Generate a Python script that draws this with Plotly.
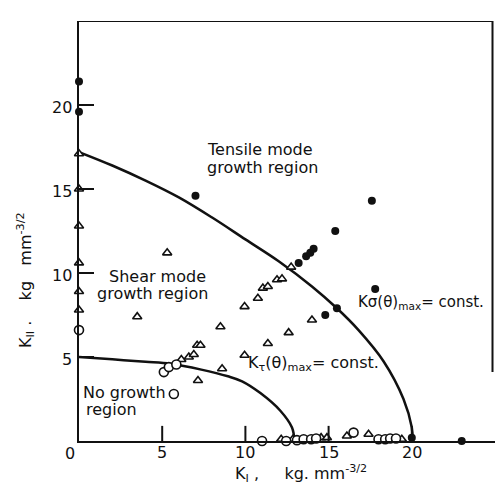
import plotly.graph_objects as go

# ---- data (K_I, K_II in kg mm^-3/2) ----
tensile_x = [0, 0, 7.0, 17.6, 15.4, 13.65, 13.9, 14.1, 13.2, 17.8, 15.5, 14.8, 19.7, 20.0, 23.0]
tensile_y = [21.4, 19.6, 14.6, 14.3, 12.5, 11.0, 11.2, 11.45, 10.6, 9.05, 7.9, 7.5, -0.1, 0.2, 0.0]

shear_x = [0, 0, 0, 0, 0, 0,
           5.3, 3.5, 9.95, 8.5, 9.95, 8.6, 7.15, 6.15, 6.6, 6.9, 7.1, 7.3,
           12.75, 11.9, 12.2, 11.05, 11.35, 10.75, 14.0, 12.6, 11.35,
           12.15, 12.85, 14.55, 14.9, 15.75, 16.1, 17.2, 17.4, 19.4]
shear_y = [17.1, 15.0, 12.8, 10.6, 8.9, 7.8,
           11.2, 7.4, 8.0, 6.8, 5.1, 4.3, 3.6, 4.85, 5.0, 5.15, 5.7, 5.7,
           10.35, 9.6, 9.65, 9.1, 9.2, 8.5, 7.2, 6.45, 5.8,
           0.1, 0.1, 0.2, 0.2, -0.25, 0.3, -0.3, 0.4, 0.1]

nogrowth_x = [0, 5.1, 5.4, 5.85, 5.7,
              11.0, 12.45, 13.1, 13.5, 13.95, 14.25, 16.5, 16.8, 18.0, 18.4, 18.7, 19.05]
nogrowth_y = [6.6, 4.1, 4.4, 4.55, 2.8,
              0.0, 0.0, 0.05, 0.1, 0.1, 0.15, 0.5, -0.25, 0.1, 0.1, 0.15, 0.15]

# K_sigma(theta)max = const. boundary (traced)
sigma_curve_x = [0, 2, 4, 6, 8, 10, 12, 14, 15.5, 16.8, 18.3, 19.5, 20.0, 20.05]
sigma_curve_y = [17.2, 16.4, 15.5, 14.5, 13.3, 12.0, 10.7, 9.2, 7.9, 6.6, 4.75, 2.5, 0.8, 0.0]

# K_tau(theta)max = const. boundary (traced)
tau_curve_x = [0, 2, 4, 5.5, 7.35, 8.95, 9.8, 10.9, 12.1, 12.8, 12.95]
tau_curve_y = [5.0, 4.86, 4.72, 4.6, 4.25, 3.85, 3.55, 2.85, 1.8, 0.8, 0.0]

x_ticks = [5, 10, 15, 20]
y_ticks = [5, 10, 15, 20]

FONT = "DejaVu Sans"
INK = "#111111"

fig = go.Figure()

fig.add_trace(go.Scatter(x=sigma_curve_x, y=sigma_curve_y, mode="lines",
                         line=dict(color=INK, width=2.5, shape="spline"),
                         showlegend=False, hoverinfo="skip", cliponaxis=False))
fig.add_trace(go.Scatter(x=tau_curve_x, y=tau_curve_y, mode="lines",
                         line=dict(color=INK, width=2.5, shape="spline"),
                         showlegend=False, hoverinfo="skip", cliponaxis=False))

fig.add_trace(go.Scatter(x=shear_x, y=shear_y, mode="markers", name="shear",
                         marker=dict(symbol="triangle-up", size=8, color="white",
                                     line=dict(color=INK, width=1.6)),
                         showlegend=False, cliponaxis=False))
fig.add_trace(go.Scatter(x=nogrowth_x, y=nogrowth_y, mode="markers", name="no growth",
                         marker=dict(symbol="circle", size=9, color="white",
                                     line=dict(color=INK, width=1.6)),
                         showlegend=False, cliponaxis=False))
fig.add_trace(go.Scatter(x=tensile_x, y=tensile_y, mode="markers", name="tensile",
                         marker=dict(symbol="circle", size=8, color=INK),
                         showlegend=False, cliponaxis=False))

# frame: top and partial right border
fig.add_shape(type="line", xref="x", yref="y", x0=0, y0=25, x1=24.85, y1=25,
              line=dict(color=INK, width=2))
fig.add_shape(type="line", xref="x", yref="y", x0=24.85, y0=25, x1=24.85, y1=4.1,
              line=dict(color=INK, width=2))
# inside tick marks (about 15 px long)
for v in x_ticks:
    fig.add_shape(type="line", xref="x", yref="y", x0=v, y0=0, x1=v, y1=0.9,
                  line=dict(color=INK, width=2), layer="above")
for v in y_ticks:
    fig.add_shape(type="line", xref="x", yref="y", x0=0, y0=v, x1=0.9, y1=v,
                  line=dict(color=INK, width=2), layer="above")

tf = dict(family=FONT, size=16, color=INK)
ann = []
def txt(x, y, s, **kw):
    d = dict(x=x, y=y, text=s, showarrow=False, font=tf, xref="x", yref="y",
             xanchor="left", yanchor="middle")
    d.update(kw)
    ann.append(d)

txt(7.6, 17.35, "Tensile mode")
txt(7.6, 16.3, "growth region")
txt(1.7, 9.8, "Shear mode")
txt(0.95, 8.8, "growth region")
txt(0.1, 2.9, "No growth")
txt(0.3, 1.85, "region")
txt(16.65, 8.25, "Kσ(θ)<sub>max</sub>= const.", font=dict(family=FONT, size=15, color=INK))
txt(10.05, 4.6, "K<sub>τ</sub>(θ)<sub>max</sub>= const.")

# tick labels placed close to the axes, as in the reference
for v in x_ticks:
    ann.append(dict(x=v, y=0, xref="x", yref="paper", text=str(v), showarrow=False,
                    font=tf, xanchor="center", yanchor="middle", yshift=-11))
for v in y_ticks:
    ann.append(dict(x=0, y=v, xref="paper", yref="y", text=str(v), showarrow=False,
                    font=tf, xanchor="right", yanchor="middle", xshift=-5, yshift=-2))
# origin label
ann.append(dict(x=0, y=0, xref="paper", yref="paper", text="0", showarrow=False,
                font=tf, xanchor="center", yanchor="middle", xshift=-9, yshift=-12))
# axis titles
ann.append(dict(x=(301 - 79) / 416, y=(441 - 473) / 420, xref="paper", yref="paper",
                text="K<sub>I</sub> ,\u00a0\u00a0\u00a0\u00a0 kg. mm<sup>-3/2</sup>",
                showarrow=False, font=tf, xanchor="center", yanchor="middle"))
ann.append(dict(x=(25 - 79) / 416, y=(441 - 280) / 420, xref="paper", yref="paper",
                text="K<sub>II</sub> .\u00a0\u00a0\u00a0 kg\u00a0\u00a0 mm<sup>-3/2</sup>",
                showarrow=False, font=tf, xanchor="center", yanchor="middle", textangle=-90))

axis_common = dict(showgrid=False, zeroline=False, showline=True, linewidth=2, linecolor=INK,
                   ticks="", showticklabels=False, fixedrange=True, automargin=False)

fig.update_layout(
    width=495, height=490,
    margin=dict(l=79, r=0, t=21, b=49, autoexpand=False),
    paper_bgcolor="white", plot_bgcolor="white",
    xaxis=dict(range=[0, 25], tickvals=x_ticks, **axis_common),
    yaxis=dict(range=[0, 25], tickvals=y_ticks, **axis_common),
    annotations=ann,
    showlegend=False,
)

fig.write_html("out.html", config={"displayModeBar": False},
               post_script="document.body.style.margin='0px';")
